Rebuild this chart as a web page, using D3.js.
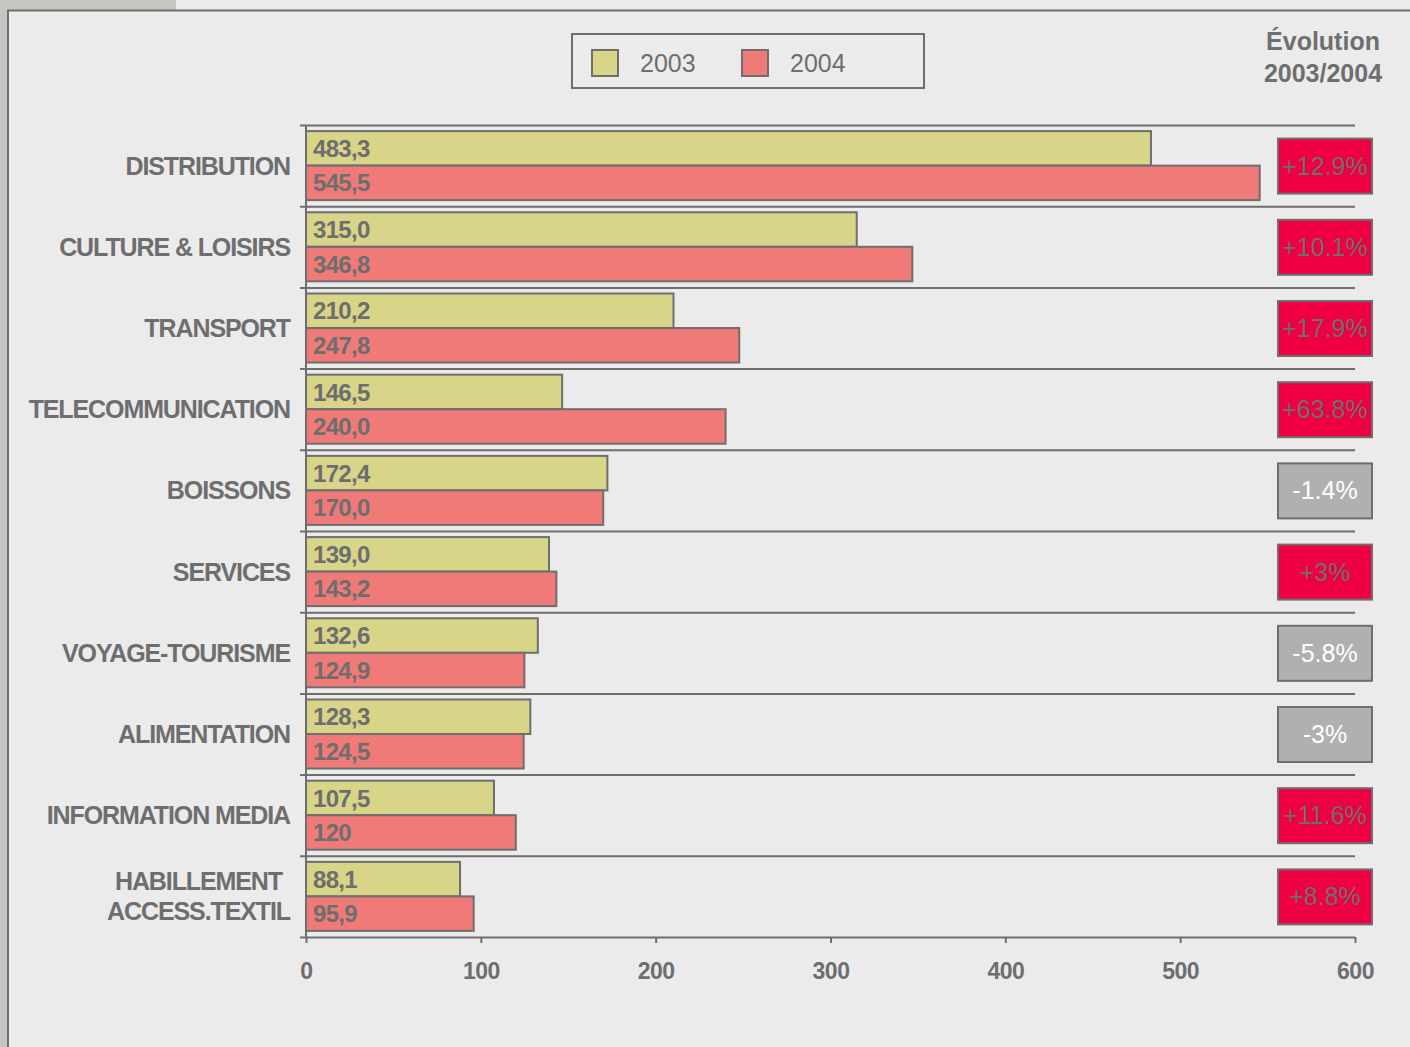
<!DOCTYPE html>
<html>
<head>
<meta charset="utf-8">
<script src="https://cdn.jsdelivr.net/npm/d3@7"></script>
<style>
  body { margin: 0; background: #ebebeb; }
  text { font-family: "Liberation Sans", Arial, sans-serif; fill: #6e6e6e; }
  .cat { font-size: 25px; font-weight: bold; letter-spacing: -1.1px; }
  .val { font-size: 24px; font-weight: bold; letter-spacing: -0.7px; }
  .tick text { font-size: 23px; font-weight: bold; fill: #6e6e6e; letter-spacing: -0.5px; }
</style>
</head>
<body>
<div id="chart"></div>
<script>
// data
var categories = ['DISTRIBUTION', 'CULTURE & LOISIRS', 'TRANSPORT', 'TELECOMMUNICATION', 'BOISSONS',
  'SERVICES', 'VOYAGE-TOURISME', 'ALIMENTATION', 'INFORMATION MEDIA', 'HABILLEMENT\nACCESS.TEXTIL'];
var series = ['2003', '2004'];
var values2003 = [483.3, 315.0, 210.2, 146.5, 172.4, 139.0, 132.6, 128.3, 107.5, 88.1];
var values2004 = [545.5, 346.8, 247.8, 240.0, 170.0, 143.2, 124.9, 124.5, 120, 95.9];
var labels2003 = ['483,3', '315,0', '210,2', '146,5', '172,4', '139,0', '132,6', '128,3', '107,5', '88,1'];
var labels2004 = ['545,5', '346,8', '247,8', '240,0', '170,0', '143,2', '124,9', '124,5', '120', '95,9'];
var evolution = ['+12.9%', '+10.1%', '+17.9%', '+63.8%', '-1.4%', '+3%', '-5.8%', '-3%', '+11.6%', '+8.8%'];
var xTicks = [0, 100, 200, 300, 400, 500, 600];

var width = 1410;
var height = 1047;
var plotLeft = 306, plotRight = 1355, plotTop = 125, plotBottom = 937;
var colors = { '2003': '#d8d488', '2004': '#f07a78' };
var stroke = '#6e6e6e';

var svg = d3.select('#chart').append('svg')
  .attr('width', width)
  .attr('height', height);

// background + frame
svg.append('rect').attr('width', width).attr('height', height).attr('fill', '#ebebeb');
svg.append('rect').attr('x', 0).attr('y', 0).attr('width', 8).attr('height', height).attr('fill', '#c6c5c2');
svg.append('rect').attr('x', 0).attr('y', 0).attr('width', 176).attr('height', 10).attr('fill', '#c6c5c2');
svg.append('path')
  .attr('d', 'M8,' + height + 'V10.5H' + width)
  .attr('fill', 'none').attr('stroke', stroke).attr('stroke-width', 2);

// scales
var x = d3.scaleLinear().domain([0, 600]).range([plotLeft, plotRight]);
var y = d3.scaleBand().domain(categories).range([plotTop, plotBottom])
  .paddingInner(0.15).paddingOuter(0.075);
var ySub = d3.scaleBand().domain(series).range([0, y.bandwidth()]);
var yIdx = d3.scaleLinear().domain([0, categories.length]).range([plotTop, plotBottom]);

// category boundary lines
var grid = svg.append('g')
  .attr('transform', 'translate(300,0)')
  .call(d3.axisLeft(yIdx).tickValues(d3.range(categories.length + 1)).tickSize(-(plotRight - 300)).tickFormat(''));
grid.select('.domain').remove();
grid.selectAll('line').attr('stroke', stroke).attr('stroke-width', 2);

// x axis
var xAxis = svg.append('g')
  .attr('transform', 'translate(0,' + plotBottom + ')')
  .call(d3.axisBottom(x).tickValues(xTicks).tickSize(6).tickSizeOuter(0));
xAxis.select('.domain').remove();
xAxis.selectAll('line').attr('stroke', stroke).attr('stroke-width', 2);
xAxis.selectAll('text').attr('y', 26);

// bars
var rows = categories.map(function(c, i) {
  return { cat: c, i: i, v: [values2003[i], values2004[i]], l: [labels2003[i], labels2004[i]] };
});

var group = svg.selectAll('.row')
  .data(rows)
  .enter()
  .append('g')
  .attr('class', 'row')
  .attr('transform', function(d) { return 'translate(0,' + y(d.cat) + ')'; });

series.forEach(function(s, k) {
  group.append('rect')
    .attr('x', x(0))
    .attr('y', ySub(s))
    .attr('width', function(d) { return x(d.v[k]) - x(0); })
    .attr('height', ySub.bandwidth())
    .attr('fill', colors[s])
    .attr('stroke', stroke)
    .attr('stroke-width', 2);

  group.append('text')
    .attr('class', 'val')
    .attr('x', x(0) + 7)
    .attr('y', ySub(s) + ySub.bandwidth() / 2)
    .attr('dy', '0.36em')
    .text(function(d) { return d.l[k]; });
});

// y axis line
svg.append('line')
  .attr('x1', plotLeft).attr('x2', plotLeft).attr('y1', plotTop).attr('y2', plotBottom)
  .attr('stroke', stroke).attr('stroke-width', 2);

// category labels
group.each(function(d) {
  var lines = d.cat.split('\n');
  var t = d3.select(this).append('text')
    .attr('class', 'cat')
    .attr('text-anchor', 'end')
    .attr('y', y.bandwidth() / 2 - (lines.length - 1) * 15);
  lines.forEach(function(line, j) {
    t.append('tspan')
      .attr('x', lines.length > 1 && j === 0 ? 282 : 290)
      .attr('dy', j === 0 ? '0.36em' : 30)
      .text(line);
  });
});

// evolution boxes
var evo = svg.selectAll('.evo')
  .data(rows)
  .enter()
  .append('g')
  .attr('class', 'evo')
  .attr('transform', function(d) { return 'translate(1325,' + (y(d.cat) + y.bandwidth() / 2) + ')'; });

evo.append('rect')
  .attr('x', -47).attr('y', -27)
  .attr('width', 94).attr('height', 55)
  .attr('fill', function(d) { return evolution[d.i][0] === '-' ? '#b0b0b0' : '#ee0042'; })
  .attr('stroke', stroke)
  .attr('stroke-width', 2);

evo.append('text')
  .attr('text-anchor', 'middle')
  .attr('dy', '0.36em')
  .style('font-size', '25px')
  .style('fill', function(d) { return evolution[d.i][0] === '-' ? '#ffffff' : '#6e6e6e'; })
  .text(function(d) { return evolution[d.i]; });

// evolution title
svg.append('text')
  .attr('text-anchor', 'middle')
  .attr('x', 1323).attr('y', 50)
  .style('font-size', '25px').style('font-weight', 'bold')
  .text('Évolution');
svg.append('text')
  .attr('text-anchor', 'middle')
  .attr('x', 1323).attr('y', 82)
  .style('font-size', '25px').style('font-weight', 'bold')
  .text('2003/2004');

// legend
var legend = svg.append('g').attr('transform', 'translate(572,34)');
legend.append('rect')
  .attr('width', 352).attr('height', 54)
  .attr('fill', 'none').attr('stroke', stroke).attr('stroke-width', 2);

var item = legend.selectAll('.item')
  .data(series)
  .enter()
  .append('g')
  .attr('class', 'item')
  .attr('transform', function(d, i) { return 'translate(' + (20 + i * 150) + ',16)'; });

item.append('rect')
  .attr('width', 26).attr('height', 26)
  .attr('fill', function(d) { return colors[d]; })
  .attr('stroke', stroke).attr('stroke-width', 2);

item.append('text')
  .attr('x', 48).attr('y', 22)
  .style('font-size', '25px')
  .text(function(d) { return d; });
</script>
</body>
</html>
